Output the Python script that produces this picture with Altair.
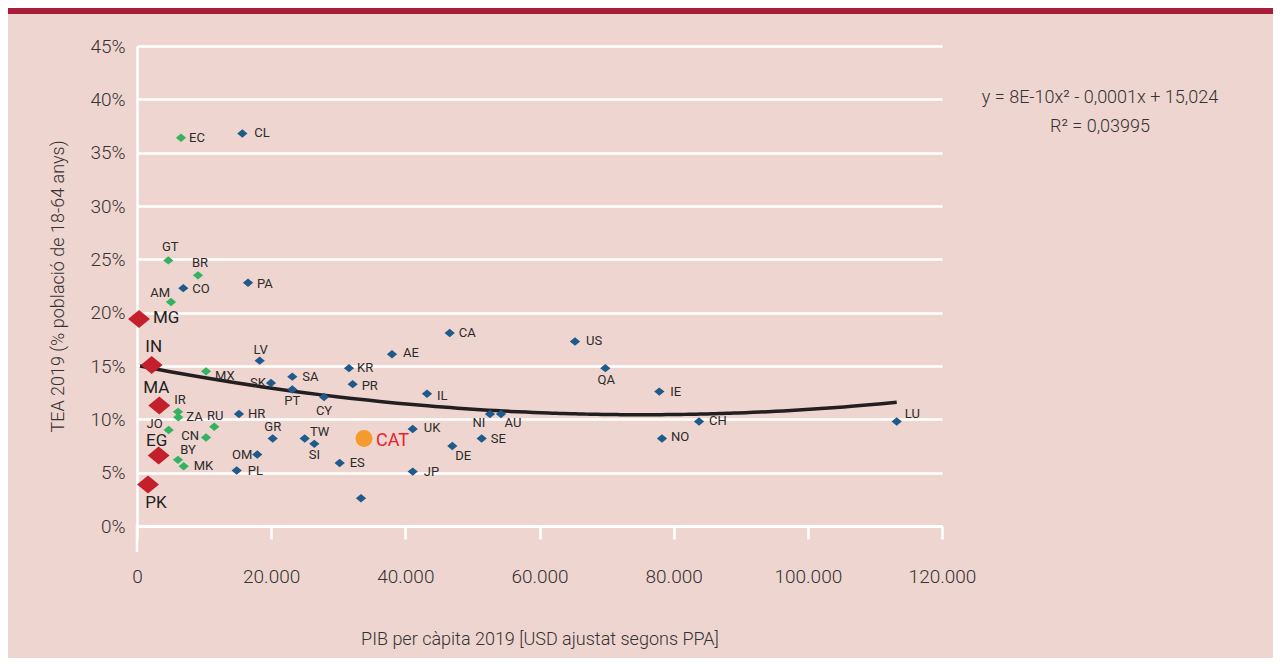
import altair as alt
import pandas as pd

# ---- data ----
codes = ["EC", "CL", "GT", "BR", "CO", "PA", "AM", "MG", "IN", "LV",
         "MX", "SK", "SA", "PT", "MA", "IR", "ZA", "HR", "JO", "RU",
         "CN", "GR", "EG", "BY", "MK", "OM", "PL", "PK", "TW", "SI",
         "CA", "AE", "KR", "PR", "IL", "CY", "CAT", "UK", "DE", "SE",
         "NI", "AU", "ES", "JP", "", "US", "QA", "IE", "CH", "NO", "LU"]
gdp = [6560, 15700, 4670, 9090, 6900, 16550, 5070, 300, 2190, 18290,
       10290, 19970, 23150, 23150, 3320, 6110, 6160, 15200, 4720, 11520,
       10290, 20230, 3230, 6110, 6960, 17930, 14860, 1640, 25000, 26430,
       46610, 38010, 31600, 32150, 43230, 27880, 33840, 41100, 47000, 51380,
       52620, 54260, 30210, 41100, 33390, 65290, 69810, 77860, 83780, 78260, 113250]
tea = [36.4, 36.8, 24.9, 23.5, 22.3, 22.8, 21.0, 19.4, 15.1, 15.5,
       14.5, 13.4, 14.0, 12.8, 11.3, 10.7, 10.2, 10.5, 9.0, 9.3,
       8.3, 8.2, 6.6, 6.2, 5.6, 6.7, 5.2, 3.9, 8.2, 7.7,
       18.1, 16.1, 14.8, 13.3, 12.4, 12.1, 8.2, 9.1, 7.5, 8.2,
       10.5, 10.5, 5.9, 5.1, 2.6, 17.3, 14.8, 12.6, 9.8, 8.2, 9.8]
groups = ["green", "blue", "green", "green", "blue", "blue", "green", "red", "red", "blue",
          "green", "blue", "blue", "blue", "red", "green", "green", "blue", "green", "green",
          "green", "blue", "red", "green", "green", "blue", "blue", "red", "blue", "blue",
          "blue", "blue", "blue", "blue", "blue", "blue", "cat", "blue", "blue", "blue",
          "blue", "blue", "blue", "blue", "blue", "blue", "blue", "blue", "blue", "blue", "blue"]

x_ticks = [0, 20000, 40000, 60000, 80000, 100000, 120000]
y_ticks = [0, 5, 10, 15, 20, 25, 30, 35, 40, 45]
eq_lines = ["y = 8E-10x\u00b2 - 0,0001x + 15,024", "R\u00b2 = 0,03995"]

x_title = "PIB per càpita 2019 [USD ajustat segons PPA]"
y_title = "TEA 2019 (% població de 18-64 anys)"

# ---- label placement (style, pixel offsets from the marker) ----
LABEL_PLACE = {
    "EC": ("left", 8, 0), "CL": ("left", 12, 0), "GT": ("center", 2, -13), "BR": ("center", 2, -12),
    "CO": ("left", 9, 1), "PA": ("left", 9, 1), "AM": ("right", -1, -9), "MG": ("left", 14, -1),
    "IN": ("center", 2, -18), "LV": ("center", 1, -11), "MX": ("left", 9, 5), "SK": ("right", -5, 0),
    "SA": ("left", 10, 0), "PT": ("center", 0, 12), "MA": ("center", -3, -17), "IR": ("center", 2, -12),
    "ZA": ("left", 8, 0), "HR": ("left", 9, 0), "JO": ("right", -6, -6), "RU": ("center", 1, -11),
    "CN": ("right", -7, -1), "GR": ("center", 0, -12), "EG": ("center", -2, -15), "BY": ("center", 10, -10),
    "MK": ("left", 10, 0), "OM": ("right", -5, 0), "PL": ("left", 11, 0), "PK": ("center", 8, 19),
    "TW": ("center", 15, -7), "SI": ("center", 0, 11), "CA": ("left", 9, 0), "AE": ("left", 11, -1),
    "KR": ("left", 8, 0), "PR": ("left", 9, 2), "IL": ("left", 10, 2), "CY": ("center", 0, 14),
    "CAT": ("left", 12, 2), "UK": ("left", 11, -1), "DE": ("center", 11, 10), "SE": ("left", 9, 0),
    "NI": ("center", -11, 9), "AU": ("center", 12, 9), "ES": ("left", 10, 0), "JP": ("left", 11, 0),
    "US": ("left", 11, 0), "QA": ("center", 1, 12), "IE": ("left", 11, 0), "CH": ("left", 10, 0),
    "NO": ("left", 9, -2), "LU": ("left", 8, -7),
}

BG = "#EFD5D0"
TXT = "#333333"
FONT = "Roboto"
COLORS = {"blue": "#1E5A8C", "green": "#33B35F", "red": "#C3202B", "cat": "#F39B2D"}
DIAMOND = "M-1,0L0,-0.82L1,0L0,0.82Z"

df = pd.DataFrame({"code": codes, "gdp": gdp, "tea": tea, "group": groups})

x_scale = alt.Scale(domain=[0, 120000], nice=False, zero=False)
y_scale = alt.Scale(domain=[0, 45], nice=False, zero=False)

x_axis = alt.Axis(
    values=x_ticks, labelExpr="replace(format(datum.value, ','), ',', '.')",
    title=x_title, grid=False, domainColor="white", domainWidth=2.5,
    tickColor="white", tickWidth=2.5, tickSize=13, labelPadding=28,
    labelFont=FONT, labelFontSize=19, labelFontWeight=300, labelColor=TXT,
    labelFlush=False, titleFont=FONT, titleFontSize=18, titleFontWeight=300,
    titleColor=TXT, titlePadding=44,
)
y_axis = alt.Axis(
    values=y_ticks, labelExpr="datum.value + '%'", title=y_title,
    grid=True, gridColor="white", gridWidth=2.5, ticks=False,
    domainColor="white", domainWidth=2.5, labelPadding=12,
    labelFont=FONT, labelFontSize=19, labelFontWeight=300, labelColor=TXT,
    titleFont=FONT, titleFontSize=18, titleFontWeight=300, titleColor=TXT,
    titlePadding=22,
)

X = alt.X("gdp:Q", scale=x_scale, axis=x_axis)
Y = alt.Y("tea:Q", scale=y_scale, axis=y_axis)

base = alt.Chart(df)

trend = base.transform_filter("datum.group != 'cat'").transform_regression(
    "gdp", "tea", method="poly", order=2, extent=[450, 113250]
).mark_line(color="#231F20", strokeWidth=3.5).encode(x=X, y=Y)

layers = [trend]

for grp, size in [("blue", 105), ("green", 105), ("red", 480)]:
    layers.append(
        base.transform_filter(f"datum.group == '{grp}'")
        .mark_point(shape=DIAMOND, filled=True, opacity=1, size=size, color=COLORS[grp], strokeWidth=0)
        .encode(x=X, y=Y)
    )
layers.append(
    base.transform_filter("datum.group == 'cat'")
    .mark_point(shape="circle", filled=True, opacity=1, size=289, color=COLORS["cat"], strokeWidth=0)
    .encode(x=X, y=Y)
)

grp_of = dict(zip(codes, groups))
for code, (align, dx, dy) in LABEL_PLACE.items():
    g = grp_of[code]
    if g == "red":
        style = dict(fontSize=17, color="#222222", font=FONT)
    elif g == "cat":
        style = dict(fontSize=18, color="#E4252E", font=FONT)
    else:
        style = dict(fontSize=13, color="#2B2B2B", font=FONT)
    layers.append(
        base.transform_filter(alt.datum.code == code)
        .mark_text(align=align, baseline="middle", dx=dx, dy=dy, **style)
        .encode(x=X, y=Y, text="code:N")
    )

one = pd.DataFrame({"k": [0]})
# equation of the trend line (annotation)
for i, line in enumerate(eq_lines):
    layers.append(
        alt.Chart(one).mark_text(font=FONT, fontSize=18, fontWeight=300, color=TXT,
                                 align="center", baseline="middle")
        .encode(x=alt.value(963), y=alt.value(52 + 29 * i), text=alt.value(line))
    )
# top banner and axis extension (decoration)
layers.append(
    alt.Chart(one).mark_rect(color="#A91C37")
    .encode(x=alt.value(-129), x2=alt.value(1136), y=alt.value(-38), y2=alt.value(-32))
)
layers.append(
    alt.Chart(one).mark_rule(color="white", strokeWidth=2.5)
    .encode(x=alt.value(0), y=alt.value(478), y2=alt.value(506))
)

chart = alt.layer(*layers).properties(
    width=805, height=480,
    padding={"left": 129, "top": 38, "right": 331, "bottom": 132},
    autosize=alt.AutoSizeParams(type="none"),
    background=BG,
).configure_view(stroke=None)

chart.save("out.html", embed_options={"renderer": "svg", "actions": False})
